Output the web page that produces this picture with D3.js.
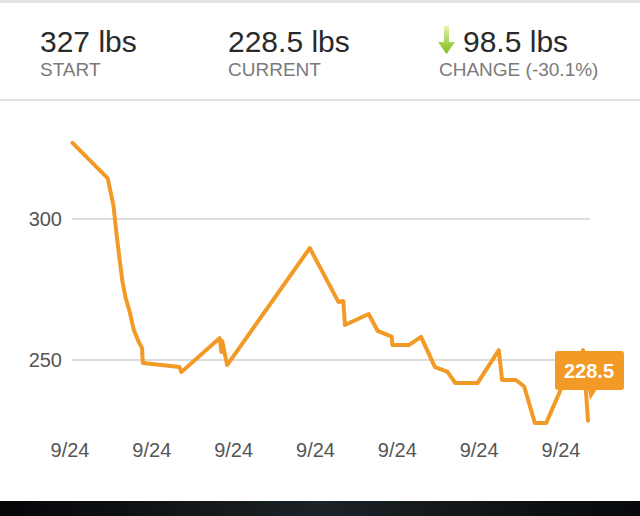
<!DOCTYPE html>
<html>
<head>
<meta charset="utf-8">
<script src="https://cdn.jsdelivr.net/npm/d3@7"></script>
<style>
    html, body { margin: 0; padding: 0; background: #fff; }
    svg { display: block; font-family: "Helvetica Neue", "Liberation Sans", Arial, sans-serif; }
</style>
</head>
<body>
<div id="chart"></div>
<script>
// weigh-ins, x in tick units (one unit per axis label)
const dayValues = [0.03, 0.46, 0.53, 0.57, 0.61, 0.64, 0.68, 0.73, 0.78, 0.84, 0.88, 0.89,
    1.34, 1.36, 1.83, 1.85, 1.86, 1.92, 2.93, 3.28, 3.34, 3.36, 3.65, 3.76, 3.93, 3.94,
    4.14, 4.29, 4.46, 4.61, 4.71, 4.98, 5.24, 5.28, 5.45, 5.55, 5.68, 5.82, 6.01, 6.27, 6.33];
const weightValues = [327, 314.5, 305, 294.3, 284.8, 278, 272, 267, 260.6, 256.4, 254.3, 248.9,
    247.5, 245.7, 257.8, 252.8, 256.7, 248.2, 289.7, 270.6, 270.9, 262.4, 266.3, 260.3, 258.3, 255.3,
    255.3, 258.2, 247.5, 245.9, 241.8, 241.8, 253.5, 242.9, 242.9, 240.6, 227.7, 227.7, 240.4, 253.5, 228.5];
const xTickValues = [0, 1, 2, 3, 4, 5, 6];
const xTickLabels = ["9/24", "9/24", "9/24", "9/24", "9/24", "9/24", "9/24"];
const yTickValues = [250, 300];
const summaryLabels = ["START", "CURRENT", "CHANGE"];

(function () {
    "use strict";

    let width = 640;
    let height = 516;
    let orange = "#f39a26";

    let svg = d3.select("#chart").append("svg").attr("width", width).attr("height", height);

    // header with start / current / change
    let start = weightValues[0];
    let current = weightValues[weightValues.length - 1];
    let change = start - current;
    let pct = ((current - start) / start) * 100;

    svg.append("rect").attr("x", 0).attr("y", 0).attr("width", width).attr("height", 3).attr("fill", "#e2e2e2");
    svg.append("rect").attr("x", 0).attr("y", 99).attr("width", width).attr("height", 2).attr("fill", "#e2e2e2");

    let summary = [
        { x: 40, value: start + " lbs", label: summaryLabels[0] },
        { x: 228, value: current + " lbs", label: summaryLabels[1] },
        { x: 463, value: change + " lbs", label: summaryLabels[2] + " (" + pct.toFixed(1) + "%)", labelX: 439 }
    ];

    let cells = svg.selectAll("g.cell").data(summary).enter().append("g").attr("class", "cell");
    cells.append("text")
        .attr("x", (d) => d.x)
        .attr("y", 52)
        .attr("font-size", 30)
        .attr("fill", "#2a2a2a")
        .text((d) => d.value);
    cells.append("text")
        .attr("x", (d) => d.labelX || d.x)
        .attr("y", 76)
        .attr("font-size", 19)
        .attr("fill", "#7a7a7a")
        .text((d) => d.label);

    // green down arrow
    let grad = svg.append("defs").append("linearGradient").attr("id", "arrowGrad")
        .attr("x1", 0).attr("y1", 0).attr("x2", 0).attr("y2", 1);
    grad.append("stop").attr("offset", "0%").attr("stop-color", "#e4f5b0");
    grad.append("stop").attr("offset", "100%").attr("stop-color", "#7cbd14");
    svg.append("path")
        .attr("d", "M444,26 L449,26 L449,42 L455,42 L446.5,54 L438,42 L444,42 Z")
        .attr("fill", "url(#arrowGrad)");

    // chart
    let x = d3.scaleLinear().domain([0, 6]).range([70, 561]);
    let y = d3.scaleLinear().domain([250, 300]).range([360, 219]);
    let plotLeft = 72;
    let plotRight = 590;

    svg.append("g")
        .selectAll("line")
        .data(yTickValues)
        .enter()
        .append("line")
        .attr("x1", plotLeft)
        .attr("x2", plotRight)
        .attr("y1", (d) => y(d))
        .attr("y2", (d) => y(d))
        .attr("stroke", "#dcdcdc")
        .attr("stroke-width", 2);

    svg.append("g")
        .selectAll("text")
        .data(yTickValues)
        .enter()
        .append("text")
        .attr("x", 62)
        .attr("y", (d) => y(d) + 7)
        .attr("text-anchor", "end")
        .attr("font-size", 20)
        .attr("fill", "#555")
        .text((d) => d);

    svg.append("g")
        .selectAll("text")
        .data(xTickValues)
        .enter()
        .append("text")
        .attr("x", (d) => x(d))
        .attr("y", 457)
        .attr("text-anchor", "middle")
        .attr("font-size", 20)
        .attr("fill", "#555")
        .text((d, i) => xTickLabels[i]);

    let points = dayValues.map((d, i) => [d, weightValues[i]]);
    let line = d3.line().x((d) => x(d[0])).y((d) => y(d[1]));

    svg.append("path")
        .datum(points)
        .attr("d", line)
        .attr("fill", "none")
        .attr("stroke", orange)
        .attr("stroke-width", 4)
        .attr("stroke-linejoin", "round")
        .attr("stroke-linecap", "round");

    // tooltip on the last weigh-in
    let last = points[points.length - 1];
    let tipX = x(last[0]);
    let tip = svg.append("g").attr("transform", "translate(" + tipX + ",370)");
    tip.append("rect")
        .attr("x", -33).attr("y", -19).attr("width", 69).attr("height", 39).attr("rx", 3)
        .attr("fill", orange);
    tip.append("path").attr("d", "M0,19 L9,19 L2,30 Z").attr("fill", orange);
    tip.append("text")
        .attr("x", 1)
        .attr("y", 8)
        .attr("text-anchor", "middle")
        .attr("font-size", 20)
        .attr("font-weight", "bold")
        .attr("fill", "#fff")
        .text(current);

    // dark strip at the bottom of the screen
    let dark = svg.append("defs").append("linearGradient").attr("id", "darkGrad");
    dark.append("stop").attr("offset", "0%").attr("stop-color", "#050608");
    dark.append("stop").attr("offset", "50%").attr("stop-color", "#1c2226");
    dark.append("stop").attr("offset", "100%").attr("stop-color", "#07090b");
    svg.append("rect").attr("x", 0).attr("y", 501).attr("width", width).attr("height", 15).attr("fill", "url(#darkGrad)");
})();
</script>
</body>
</html>
